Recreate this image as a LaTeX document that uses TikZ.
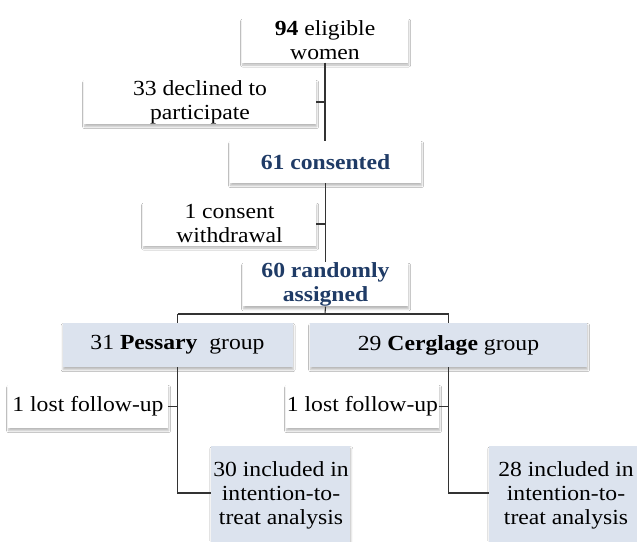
\documentclass[tikz,border=0pt]{standalone}
\usepackage{fontspec}
\setmainfont{Liberation Serif}[FakeStretch=1.1]
\usetikzlibrary{shadows,shadows.blur}
\definecolor{deepblue}{HTML}{1F3B66}
\definecolor{paleblue}{HTML}{DCE3EE}
\definecolor{linegray}{HTML}{333333}
\tikzset{
  box/.style={rectangle, fill=white, inner sep=0pt, align=center,
    font=\fontsize{21.5}{24}\selectfont,
    blur shadow={shadow xshift=0.6pt, shadow yshift=-2.6pt, shadow blur radius=2pt, shadow blur steps=6, shadow opacity=28}},
  bluebox/.style={box, fill=paleblue},
  plaintext/.style={inner sep=0pt, align=center, font=\fontsize{21.5}{24}\selectfont},
  conn/.style={draw=linegray, line width=1.1pt}
}
\begin{document}
\begin{tikzpicture}[x=1pt,y=-1pt]
\useasboundingbox (0,0) rectangle (637,541);
\fill[white] (0,0) rectangle (637,541);
\begin{scope}
\clip (0,0) rectangle (637,541);
\node[box, minimum width=166pt, minimum height=44pt] (elig) at (325,40.5) {\textbf{94} eligible\\women};
\node[box, minimum width=232pt, minimum height=44pt] (decl) at (200,102) {33 declined to\\participate};
\node[box, minimum width=191pt, minimum height=42pt, text=deepblue, font=\fontsize{21.5}{24}\selectfont\bfseries] (cons) at (325.5,162) {61 consented};
\node[box, minimum width=173pt, minimum height=43pt] (withd) at (229.5,224) {1 consent\\withdrawal};
\node[box, minimum width=165pt, minimum height=42pt, text=deepblue, font=\fontsize{21.5}{24}\selectfont\bfseries] (rand) at (325.5,284.5) {60 randomly\\assigned};
\node[bluebox, minimum width=230pt, minimum height=44pt] (pess) at (177.5,345) {31 \textbf{Pessary}\ \ group};
\node[bluebox, minimum width=277pt, minimum height=44pt] (cerc) at (448.5,345) {29 \textbf{Cerglage} group};
\node[box, minimum width=160pt, minimum height=43pt] (lostL) at (88,406.5) {1 lost follow-up};
\node[box, minimum width=153pt, minimum height=43pt] (lostR) at (362.5,406.5) {1 lost follow-up};
\node[bluebox, minimum width=139pt, minimum height=110pt, anchor=north west] (incLbox) at (211,446) {};
\node[bluebox, minimum width=160pt, minimum height=110pt, anchor=north west] (incRbox) at (489,446) {};
\node[plaintext] (incL) at (281,495) {30 included in\\intention-to-\\treat analysis};
\node[plaintext] (incR) at (566,495) {28 included in\\intention-to-\\treat analysis};
\end{scope}
\coordinate (split) at (325,314);
\draw[conn] (elig.south) -- (elig.south |- cons.north);
\draw[conn] (decl.east) -- (decl.east -| elig.south);
\draw[conn] (cons.south) -- (cons.south |- rand.north);
\draw[conn] (withd.east) -- (withd.east -| cons.south);
\draw[conn] (rand.south) -- (split);
\draw[conn] (pess.north |- split) -- (cerc.north |- split);
\draw[conn] (pess.north |- split) -- (pess.north);
\draw[conn] (cerc.north |- split) -- (cerc.north);
\draw[conn] (pess.south) |- (incLbox.west |- 0,493);
\draw[conn] (lostL.east) -- (lostL.east -| pess.south);
\draw[conn] (cerc.south) |- (incRbox.west |- 0,493);
\draw[conn] (lostR.east) -- (lostR.east -| cerc.south);
\end{tikzpicture}
\end{document}
